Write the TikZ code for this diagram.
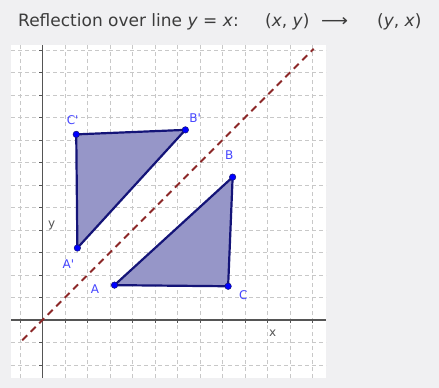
\documentclass[tikz,border=0pt]{standalone}
\usepackage{fontspec}
\usepackage{graphicx}
\setmainfont{DejaVu Sans}
\newfontfamily\lblfont{DejaVu Sans}
\definecolor{bggray}{RGB}{240,240,242}
\definecolor{titlegray}{RGB}{60,60,60}
\definecolor{gridgray}{RGB}{200,200,200}
\definecolor{axisgray}{RGB}{85,85,85}
\definecolor{linered}{RGB}{140,40,40}
\definecolor{triedge}{RGB}{20,20,120}
\definecolor{trifill}{RGB}{150,150,200}
\definecolor{ptblue}{RGB}{0,0,255}
\definecolor{lblblue}{RGB}{70,70,255}
\begin{document}
\begin{tikzpicture}[x=1pt,y=-1pt,
  titletext/.style={anchor=base west, inner sep=0pt, text=titlegray, font=\fontsize{17}{20}\selectfont},
  gridline/.style={gridgray, line width=0.8pt, dash pattern=on 4pt off 3pt},
  axisline/.style={axisgray, line width=1.3pt},
  tickline/.style={axisgray, line width=1pt},
  mirror/.style={linered, line width=1.8pt, dash pattern=on 7pt off 5pt},
  tri/.style={draw=triedge, fill=trifill, line width=2.2pt, line join=round},
  pt/.style={circle, fill=ptblue, draw=triedge, line width=0.5pt, inner sep=0pt, minimum size=6.5pt},
  ptlabel/.style={text=lblblue, font=\lblfont\fontsize{12}{13}\selectfont, inner sep=0pt},
  axlabel/.style={text=axisgray, font=\lblfont\fontsize{12}{13}\selectfont, inner sep=0pt}]
\useasboundingbox[fill=bggray] (0,0) rectangle (439,388);
\node[titletext] (t1) at (18,26.5) {Reflection over line \textit{y} = \textit{x}:};
\node[titletext] (t2) at (265,26.5) {(\textit{x}, \textit{y})};
\node[titletext] (t3) at (321,26.5) {\resizebox{27pt}{\height}{⟶}};
\node[titletext] (t4) at (377,26.5) {(\textit{y}, \textit{x})};
\fill[white] (11,45) rectangle (326,378);
\begin{scope}[shift={(42.5pt,-320pt)}, x=22.5pt, y=22.5pt]
  \foreach \i in {-1,1,2,...,12} \draw[gridline] (\i,-2.58) -- (\i,12.22);
  \foreach \j in {-2,-1,1,2,...,12} \draw[gridline] (-1.4,\j) -- (12.6,\j);
  \draw[axisline] (-1.4,0) -- (12.6,0);
  \draw[axisline] (0,-2.58) -- (0,12.22);
  \foreach \i in {-1,1,2,...,12} \draw[tickline] (\i,0.04) -- (\i,-0.14);
  \foreach \j in {-2,-1,1,2,...,12} \draw[tickline] (-0.14,\j) -- (0.04,\j);
  \draw[mirror] (-0.9,-0.9) -- (12.05,12.05);
  \coordinate (pA) at (3.2,1.55);
  \coordinate (pB) at (8.45,6.35);
  \coordinate (pC) at (8.25,1.5);
  \coordinate (pA2) at (1.55,3.2);
  \coordinate (pB2) at (6.35,8.45);
  \coordinate (pC2) at (1.5,8.25);
  \filldraw[tri] (pA) -- (pB) -- (pC) -- cycle;
  \filldraw[tri] (pA2) -- (pB2) -- (pC2) -- cycle;
  \node[pt] (A) at (pA) {};
  \node[pt] (B) at (pB) {};
  \node[pt] (C) at (pC) {};
  \node[pt] (A2) at (pA2) {};
  \node[pt] (B2) at (pB2) {};
  \node[pt] (C2) at (pC2) {};
  \node[ptlabel] (lA) at (2.33,1.36) {A};
  \node[ptlabel] (lB) at (8.3,7.33) {B};
  \node[ptlabel] (lC) at (8.92,1.11) {C};
  \node[ptlabel] (lA2) at (1.15,2.48) {A'};
  \node[ptlabel] (lB2) at (6.78,8.96) {B'};
  \node[ptlabel] (lC2) at (1.34,8.89) {C'};
  \node[axlabel] (lx) at (10.23,-0.59) {x};
  \node[axlabel] (ly) at (0.41,4.22) {y};
\end{scope}
\end{tikzpicture}
\end{document}
